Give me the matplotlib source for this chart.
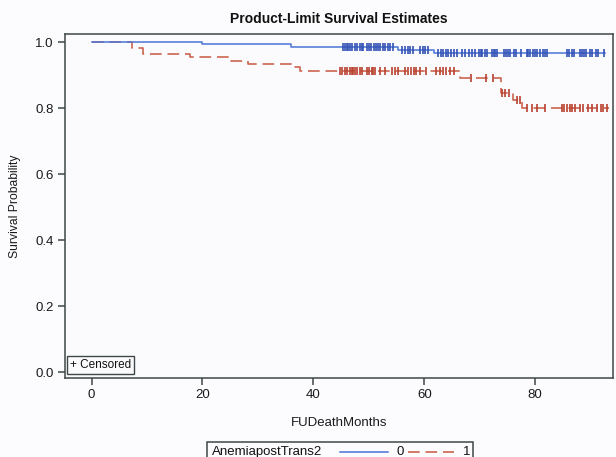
import matplotlib
matplotlib.use("Agg")
import matplotlib.pyplot as plt
import numpy as np
from matplotlib.lines import Line2D
from matplotlib.patches import Rectangle

plt.rcParams['font.family'] = ['Liberation Sans', 'DejaVu Sans']

# group 0 (AnemiapostTrans2 = 0)
blue_times = [0, 20.0, 36.0, 55.3, 61.8]
blue_surv = [1.0, 0.994, 0.987, 0.977, 0.968]
blue_end = 92.6
blue_cens = [45.4, 45.7, 46.0, 46.3, 46.6, 46.9, 47.5, 47.9, 48.4, 48.7, 49.0, 49.6,
             50.0, 50.4, 50.9, 51.3, 51.7, 52.1, 52.5, 53.0, 53.5, 53.9, 54.4,
             55.9, 56.5, 57.1, 57.5, 58.0, 59.2, 59.7, 60.1, 60.6,
             62.5, 63.0, 63.4, 63.9, 64.3, 64.9, 65.4, 65.9, 66.8, 67.4, 68.0, 68.6,
             69.2, 69.8, 70.2, 70.5, 71.0, 71.4, 72.2, 72.5, 72.8, 73.1, 74.3, 74.7,
             75.1, 75.5, 76.1, 76.6, 77.4, 78.5, 78.8, 79.1, 79.6, 80.0, 80.4, 80.9,
             81.4, 81.8, 82.2, 85.7, 86.1, 86.6, 87.0, 88.1, 88.5, 88.8, 89.2, 89.9,
             90.3, 91.0, 91.4, 92.5]

# group 1 (AnemiapostTrans2 = 1)
red_times = [0, 7.2, 9.3, 17.7, 25.2, 28.2, 36.3, 37.5, 66.4, 73.8, 76.0, 77.6]
red_surv = [1.0, 0.983, 0.965, 0.956, 0.944, 0.935, 0.924, 0.912, 0.89, 0.846, 0.826, 0.80]
red_end = 93.3
red_cens = [44.8, 45.2, 45.7, 46.1, 46.6, 46.9, 47.2, 47.5, 47.8, 48.4, 48.8, 49.6,
            50.1, 50.5, 50.8, 51.1, 52.0, 52.9, 54.1, 54.7, 55.3, 56.5, 57.1, 57.7,
            58.2, 58.6, 59.2, 60.4, 62.2, 62.8, 63.4, 64.0, 64.6, 65.3,
            68.4, 71.2, 72.4, 74.0, 74.6, 75.2, 76.7, 77.2,
            78.5, 79.4, 80.3, 81.8, 84.8, 85.2, 85.7, 86.2, 86.6, 87.2, 88.1, 88.7,
            89.6, 90.2, 91.1, 91.8, 92.3, 92.9]

blue_c = '#4b74d6'
blue_m = '#3352b5'
red_c = '#cc6450'
red_m = '#b8412f'
frame_c = '#3f4747'


def surv_at(times, surv, t):
    idx = np.searchsorted(times, t, side='right') - 1
    return np.array(surv)[idx]


fig = plt.figure(figsize=(6.16, 4.57), dpi=100, facecolor='#fcfcfe')
ax = fig.add_axes([65 / 616, 1 - 378.3 / 457, (613.3 - 65) / 616, (378.3 - 34.3) / 457])
ax.set_facecolor('#fbfbfe')

ax.step(blue_times + [blue_end], blue_surv + [blue_surv[-1]], where='post',
        color=blue_c, lw=1.1, zorder=3)
ax.step(red_times + [red_end], red_surv + [red_surv[-1]], where='post',
        color=red_c, lw=1.2, dashes=(7, 3.5), zorder=2)

ax.plot(blue_cens, surv_at(blue_times, blue_surv, blue_cens), ls='none',
        marker='|', ms=6, mew=1.2, color=blue_m, zorder=4)
ax.plot(red_cens, surv_at(red_times, red_surv, red_cens), ls='none',
        marker='|', ms=6, mew=1.2, color=red_m, zorder=4)

ax.set_xlim(-4.8, 94.1)
ax.set_ylim(-0.019, 1.024)
ax.set_xticks([0, 20, 40, 60, 80])
ax.set_yticks([0.0, 0.2, 0.4, 0.6, 0.8, 1.0])
ax.set_yticklabels(['0.0', '0.2', '0.4', '0.6', '0.8', '1.0'])
ax.tick_params(direction='out', length=5, width=1.1, color=frame_c,
               labelsize=9.5, labelcolor='#1a1a1a', pad=3)
for s in ax.spines.values():
    s.set_color(frame_c)
    s.set_linewidth(1.1)

ax.set_title('Product-Limit Survival Estimates', fontsize=10, fontweight='bold',
             color='#111111', pad=8)
ax.set_xlabel('FUDeathMonths', fontsize=9.5, color='#1a1a1a', labelpad=11)
ax.set_ylabel('Survival Probability', fontsize=8.7, color='#1a1a1a', labelpad=10)

# "+ Censored" box inside the axes
ax.text(0.0085, 0.022, '+ Censored', transform=ax.transAxes, fontsize=8.5,
        color='#111111', ha='left', va='bottom',
        bbox=dict(boxstyle='square,pad=0.25', fc='#fbfbfe', ec=frame_c, lw=1))

# group legend at the bottom (partly cut by the figure edge)
fig.add_artist(Rectangle((207 / 616, 1 - 470 / 457), (473 - 207) / 616, 28 / 457,
                         transform=fig.transFigure, fill=False, ec=frame_c, lw=1.1))
yl = 1 - 452 / 457
fig.text(212 / 616, yl, 'AnemiapostTrans2', fontsize=9.5, color='#111111',
         ha='left', va='center')
fig.add_artist(Line2D([340 / 616, 388 / 616], [yl, yl], transform=fig.transFigure,
                      color=blue_c, lw=1.1))
fig.text(397 / 616, yl, '0', fontsize=9.5, color='#111111', ha='left', va='center')
fig.add_artist(Line2D([408 / 616, 454 / 616], [yl, yl], transform=fig.transFigure,
                      color=red_c, lw=1.2, dashes=(7, 3.5)))
fig.text(463 / 616, yl, '1', fontsize=9.5, color='#111111', ha='left', va='center')

fig.savefig('out.png', dpi=100, facecolor=fig.get_facecolor())
